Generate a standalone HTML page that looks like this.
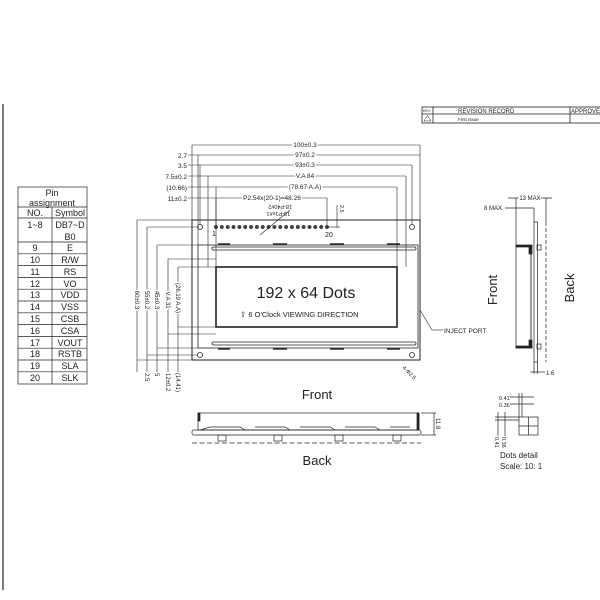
<!DOCTYPE html>
<html><head><style>body{margin:0;background:#fff}svg{display:block}text{font-family:"Liberation Sans",sans-serif;fill:#222}</style></head><body>
<svg width="600" height="600" viewBox="0 0 600 600" xmlns="http://www.w3.org/2000/svg" stroke="#222" fill="none" stroke-width="0.8">
<line x1="3" y1="104" x2="3" y2="590" stroke-width="1.2"/>
<!-- revision block -->
<rect x="422" y="107" width="180" height="16"/>
<line x1="422" y1="114" x2="600" y2="114"/>
<line x1="433" y1="107" x2="433" y2="123"/>
<line x1="570" y1="107" x2="570" y2="123"/>
<text x="458" y="113" font-size="6" stroke="none">REVISION  RECORD</text>
<text x="571" y="113" font-size="6" stroke="none">APPROVED</text>
<text x="458" y="121" font-size="4.5" stroke="none" fill="#777">First Issue</text>
<text x="423" y="112" font-size="3.5" stroke="none">REV</text>
<path d="M424 121 L427.5 115.5 L431 121 Z" stroke-width="0.5"/>
<!-- pin table -->
<g stroke-width="0.7">
<rect x="18" y="187" width="69" height="197"/>
<line x1="18" y1="207" x2="87" y2="207"/>
<line x1="52" y1="207" x2="52" y2="384"/>
<line x1="18" y1="218" x2="87" y2="218"/>
<line x1="18" y1="242" x2="87" y2="242"/>
<line x1="18" y1="253.8" x2="87" y2="253.8"/><line x1="18" y1="265.6" x2="87" y2="265.6"/><line x1="18" y1="277.4" x2="87" y2="277.4"/><line x1="18" y1="289.2" x2="87" y2="289.2"/><line x1="18" y1="301" x2="87" y2="301"/><line x1="18" y1="312.8" x2="87" y2="312.8"/><line x1="18" y1="324.6" x2="87" y2="324.6"/><line x1="18" y1="336.4" x2="87" y2="336.4"/><line x1="18" y1="348.2" x2="87" y2="348.2"/><line x1="18" y1="360" x2="87" y2="360"/><line x1="18" y1="371.8" x2="87" y2="371.8"/>
</g>
<g font-size="9" stroke="none" text-anchor="middle">
<text x="52" y="196">Pin</text><text x="52" y="206">assignment</text>
<text x="35" y="216">NO.</text><text x="70" y="216">Symbol</text>
<text x="35" y="228">1~8</text><text x="70" y="228">DB7~D</text><text x="70" y="240">B0</text>
<text x="35" y="251">9</text><text x="70" y="251">E</text>
<text x="35" y="263">10</text><text x="70" y="263">R/W</text>
<text x="35" y="275">11</text><text x="70" y="275">RS</text>
<text x="35" y="287">12</text><text x="70" y="287">VO</text>
<text x="35" y="298">13</text><text x="70" y="298">VDD</text>
<text x="35" y="310">14</text><text x="70" y="310">VSS</text>
<text x="35" y="322">15</text><text x="70" y="322">CSB</text>
<text x="35" y="334">16</text><text x="70" y="334">CSA</text>
<text x="35" y="346">17</text><text x="70" y="346">VOUT</text>
<text x="35" y="357">18</text><text x="70" y="357">RSTB</text>
<text x="35" y="369">19</text><text x="70" y="369">SLA</text>
<text x="35" y="381">20</text><text x="70" y="381">SLK</text>
</g>
<!-- main module -->
<rect x="192" y="220" width="228" height="140" stroke-width="1"/>
<rect x="198" y="245" width="220" height="103" stroke-width="0.8"/>
<rect x="216" y="267" width="181" height="60" stroke-width="1.6"/>
<rect x="212" y="247" width="204" height="3" rx="1.5"/>
<rect x="212" y="342" width="204" height="3" rx="1.5"/>
<g stroke-width="1.4"><line x1="218" y1="244" x2="230" y2="244"/><line x1="273" y1="244" x2="287" y2="244"/><line x1="330" y1="244" x2="344" y2="244"/><line x1="387" y1="244" x2="400" y2="244"/>
<line x1="218" y1="349" x2="230" y2="349"/><line x1="273" y1="349" x2="287" y2="349"/><line x1="330" y1="349" x2="344" y2="349"/><line x1="387" y1="349" x2="400" y2="349"/></g>
<circle cx="200" cy="227" r="2.5"/><circle cx="412" cy="227" r="2.5"/><circle cx="200" cy="355" r="2.5"/><circle cx="412" cy="355" r="2.5"/>
<g fill="#444" stroke-width="0.4">
<circle cx="216" cy="227" r="1.8"/><circle cx="221.8" cy="227" r="1.8"/><circle cx="227.7" cy="227" r="1.8"/><circle cx="233.5" cy="227" r="1.8"/><circle cx="239.4" cy="227" r="1.8"/><circle cx="245.2" cy="227" r="1.8"/><circle cx="251" cy="227" r="1.8"/><circle cx="256.9" cy="227" r="1.8"/><circle cx="262.7" cy="227" r="1.8"/><circle cx="268.6" cy="227" r="1.8"/><circle cx="274.4" cy="227" r="1.8"/><circle cx="280.3" cy="227" r="1.8"/><circle cx="286.1" cy="227" r="1.8"/><circle cx="291.9" cy="227" r="1.8"/><circle cx="297.8" cy="227" r="1.8"/><circle cx="303.6" cy="227" r="1.8"/><circle cx="309.5" cy="227" r="1.8"/><circle cx="315.3" cy="227" r="1.8"/><circle cx="321.2" cy="227" r="1.8"/><circle cx="327" cy="227" r="1.8"/></g>
<text x="212" y="236" font-size="7" stroke="none">1</text><text x="325" y="237" font-size="7" stroke="none">20</text>
<text x="306" y="298" font-size="16" stroke="none" text-anchor="middle" fill="#333">192 x 64 Dots</text>
<text x="240" y="317" font-size="7.5" stroke="none">⇧ 6  O'Clock  VIEWING  DIRECTION</text>
<!-- top dims -->
<g stroke-width="0.6">
<line x1="192" y1="220" x2="192" y2="145"/><line x1="420" y1="220" x2="420" y2="145"/>
<line x1="192" y1="145" x2="420" y2="145"/>
<line x1="198" y1="245" x2="198" y2="155"/><line x1="188" y1="155" x2="420" y2="155"/>
<line x1="200" y1="225" x2="200" y2="165"/><line x1="412" y1="225" x2="412" y2="165"/><line x1="188" y1="165" x2="412" y2="165"/>
<line x1="208" y1="267" x2="208" y2="176"/><line x1="188" y1="176" x2="406" y2="176"/><line x1="406" y1="176" x2="406" y2="267"/>
<line x1="216" y1="267" x2="216" y2="187"/><line x1="188" y1="187" x2="397" y2="187"/><line x1="397" y1="187" x2="397" y2="267"/>
<line x1="216" y1="225" x2="216" y2="198"/><line x1="188" y1="198" x2="327" y2="198"/><line x1="327" y1="198" x2="327" y2="225"/>
<line x1="337" y1="205" x2="337" y2="228"/><line x1="327" y1="227" x2="340" y2="227"/>
<line x1="260" y1="235" x2="290" y2="210"/>
</g>
<g font-size="6.5" stroke="none">
<text x="305" y="147" text-anchor="middle" fill="#222" stroke="#fff" stroke-width="3" paint-order="stroke">100±0.3</text>
<text x="305" y="157" text-anchor="middle" stroke="#fff" stroke-width="3" paint-order="stroke">97±0.2</text>
<text x="305" y="167" text-anchor="middle" stroke="#fff" stroke-width="3" paint-order="stroke">93±0.3</text>
<text x="305" y="178" text-anchor="middle" stroke="#fff" stroke-width="3" paint-order="stroke">V.A  84</text>
<text x="305" y="189" text-anchor="middle" stroke="#fff" stroke-width="3" paint-order="stroke">(78.67  A.A)</text>
<text x="272" y="200" text-anchor="middle" stroke="#fff" stroke-width="3" paint-order="stroke">P2.54x(20-1)=48.26</text>
<text x="187" y="158" text-anchor="end">2.7</text>
<text x="187" y="168" text-anchor="end">3.5</text>
<text x="187" y="179" text-anchor="end">7.5±0.2</text>
<text x="187" y="190" text-anchor="end">(10.66)</text>
<text x="187" y="201" text-anchor="end">11±0.2</text>
<text transform="translate(290,212) rotate(180)" font-size="5.5">18-P1x#1</text>
<text transform="translate(292,205) rotate(180)" font-size="5.5">18-P40#2</text>
<text transform="translate(340,205) rotate(90)" font-size="5.5">2.5</text>
</g>
<!-- left dims -->
<g stroke-width="0.6">
<line x1="137" y1="220" x2="137" y2="372"/><line x1="137" y1="220" x2="192" y2="220"/><line x1="137" y1="360" x2="192" y2="360"/>
<line x1="147" y1="227" x2="147" y2="372"/><line x1="147" y1="227" x2="198" y2="227"/><line x1="147" y1="355" x2="198" y2="355"/>
<line x1="157" y1="245" x2="157" y2="372"/><line x1="157" y1="245" x2="198" y2="245"/><line x1="157" y1="348" x2="198" y2="348"/>
<line x1="168" y1="259" x2="168" y2="372"/><line x1="168" y1="259" x2="216" y2="259"/><line x1="168" y1="334" x2="216" y2="334"/>
<line x1="178" y1="267" x2="178" y2="372"/><line x1="178" y1="267" x2="216" y2="267"/><line x1="178" y1="327" x2="216" y2="327"/>
</g>
<g font-size="6" stroke="none">
<text transform="translate(135,300) rotate(90)" text-anchor="middle" stroke="#fff" stroke-width="3" paint-order="stroke">60±0.3</text>
<text transform="translate(145,300) rotate(90)" text-anchor="middle" stroke="#fff" stroke-width="3" paint-order="stroke">55±0.2</text>
<text transform="translate(155,300) rotate(90)" text-anchor="middle" stroke="#fff" stroke-width="3" paint-order="stroke">45±0.3</text>
<text transform="translate(166,300) rotate(90)" text-anchor="middle" stroke="#fff" stroke-width="3" paint-order="stroke">V.A  31</text>
<text transform="translate(176,298) rotate(90)" text-anchor="middle" stroke="#fff" stroke-width="3" paint-order="stroke">(26.19  A.A)</text>
<text transform="translate(145,373) rotate(90)">2.5</text>
<text transform="translate(155,373) rotate(90)">5</text>
<text transform="translate(166,373) rotate(90)">12±0.2</text>
<text transform="translate(176,373) rotate(90)">(14.41)</text>
<text transform="translate(402,368) rotate(45)" font-size="5.5">4-Φ2.5</text>
</g>
<line x1="420" y1="310" x2="432" y2="330" stroke-width="0.6"/><line x1="432" y1="330" x2="443" y2="330" stroke-width="0.6"/>
<text x="444" y="333" font-size="6.5" stroke="none">INJECT PORT</text>
<!-- side view -->
<g stroke-width="0.7">
<rect x="516" y="246" width="15" height="102"/>
<rect x="534" y="222" width="3.5" height="140"/>
<rect x="516" y="245" width="16" height="2" fill="#222"/><rect x="516" y="346" width="16" height="2" fill="#222"/>
<rect x="529" y="246" width="3" height="8" fill="#222"/><rect x="529" y="340" width="3" height="8" fill="#222"/>
<rect x="537" y="245" width="4" height="5"/><rect x="537" y="344" width="4" height="5"/>
<line x1="531" y1="254" x2="531" y2="340"/>
<line x1="546" y1="222" x2="546" y2="362" stroke-dasharray="4,2"/>
<line x1="516" y1="246" x2="516" y2="198"/><line x1="546" y1="222" x2="546" y2="198"/><line x1="508" y1="198" x2="552" y2="198"/>
<line x1="534" y1="222" x2="534" y2="208"/><line x1="505" y1="208" x2="534" y2="208"/>
<line x1="534" y1="362" x2="534" y2="374"/><line x1="537.5" y1="362" x2="537.5" y2="374"/><line x1="530" y1="372" x2="545" y2="372"/>
</g>
<g font-size="6" stroke="none">
<text x="530" y="200" text-anchor="middle" stroke="#fff" stroke-width="3" paint-order="stroke">13 MAX</text>
<text x="484" y="210">8 MAX</text>
<text x="546" y="375">1.6</text>
</g>
<text transform="translate(497,290) rotate(-90)" font-size="13" stroke="none" text-anchor="middle">Front</text>
<text transform="translate(574,288) rotate(-90)" font-size="13" stroke="none" text-anchor="middle">Back</text>
<!-- bottom view -->
<text x="317" y="399" font-size="13" stroke="none" text-anchor="middle">Front</text>
<text x="317" y="465" font-size="13" stroke="none" text-anchor="middle">Back</text>
<g stroke-width="0.7">
<rect x="198" y="413" width="221" height="17"/>
<rect x="192" y="430" width="229" height="5" rx="2"/>
<rect x="198" y="413" width="2" height="8" fill="#222"/><rect x="417" y="413" width="2" height="17" fill="#222"/>
<path d="M200 430 L210 427 L240 427 L245 430 M255 427 L285 427 L290 430 M300 427 L330 427 L335 430 M345 427 L375 427 L380 430 M390 427 L410 427"/>
<rect x="218" y="435" width="8" height="6"/><rect x="274" y="435" width="8" height="6"/><rect x="335" y="435" width="8" height="6"/><rect x="393" y="435" width="8" height="6"/>
<line x1="192" y1="443" x2="421" y2="443" stroke-dasharray="5,2.5"/>
<line x1="421" y1="413" x2="436" y2="413"/><line x1="421" y1="435" x2="436" y2="435"/><line x1="434" y1="413" x2="434" y2="435"/>
</g>
<text transform="translate(436,418) rotate(90)" font-size="6" stroke="none">11.8</text>
<!-- dots detail -->
<g stroke-width="0.7">
<rect x="519" y="417" width="19" height="18"/><line x1="528.5" y1="417" x2="528.5" y2="435"/><line x1="519" y1="426" x2="538" y2="426"/>
<line x1="519" y1="417" x2="519" y2="393"/><line x1="522" y1="417" x2="522" y2="393"/><line x1="510" y1="397" x2="534" y2="397"/><line x1="510" y1="404" x2="534" y2="404"/>
<line x1="495" y1="417" x2="519" y2="417"/><line x1="495" y1="420" x2="519" y2="420"/><line x1="498" y1="412" x2="498" y2="436"/><line x1="505" y1="412" x2="505" y2="436"/>
</g>
<g font-size="5.5" stroke="none">
<text x="499" y="400">0.41</text><text x="499" y="407">0.36</text>
<text transform="translate(495,437) rotate(90)">0.41</text><text transform="translate(502,437) rotate(90)">0.36</text>
</g>
<text x="500" y="458" font-size="8" stroke="none">Dots  detail</text>
<text x="500" y="469" font-size="8" stroke="none">Scale: 10: 1</text>
</svg>
</body></html>
